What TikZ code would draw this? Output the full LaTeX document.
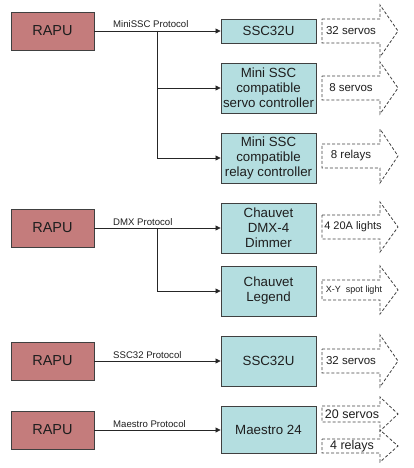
\documentclass[tikz,border=0pt]{standalone}
\usepackage{fontspec}
\setmainfont{Liberation Sans}
\usetikzlibrary{arrows.meta}
\definecolor{rapufill}{RGB}{196,124,124}
\definecolor{devfill}{RGB}{180,222,224}
\definecolor{edge}{RGB}{64,64,64}
\definecolor{txt}{RGB}{30,30,30}
\tikzset{
  pics/outarr/.style n args={2}{code={
    \draw[outline] (0,-#1) -- (58,-#1) -- (58,-#2) -- (76,0) -- (58,#2) -- (58,#1) -- (0,#1) -- cycle;}}
}
\begin{document}
\begin{tikzpicture}[x=1pt,y=-1pt,text=txt,
  rapu/.style={draw=edge,fill=rapufill,line width=0.9pt,minimum width=83pt,minimum height=38pt,inner sep=0pt,font=\fontsize{14.5}{16}\selectfont},
  dev/.style={draw=edge,fill=devfill,line width=0.9pt,minimum width=95pt,inner sep=0pt,align=center,font=\fontsize{13.3}{15}\selectfont},
  conn/.style={draw=black!85,line width=0.8pt,-{Triangle[length=5pt,width=5pt]}},
  plabel/.style={anchor=base west,inner sep=0pt,font=\fontsize{9.6}{11}\selectfont},
  outline/.style={draw=black!75,dash pattern=on 3pt off 2pt,line width=0.8pt},
  outtext/.style={inner sep=0pt,font=\fontsize{11.5}{13}\selectfont}]
\useasboundingbox (0,0) rectangle (413,468);

% RAPU boxes
\node[rapu] (r1) at (52.5,31) {RAPU};
\node[rapu] (r2) at (52.5,228) {RAPU};
\node[rapu] (r3) at (52.5,361) {RAPU};
\node[rapu] (r4) at (52.5,430) {RAPU};

% devices
\node[dev,minimum height=24pt] (s1) at (268.5,31) {SSC32U};
\node[dev,minimum height=50pt] (s2) at (268.5,88) {Mini SSC\\compatible\\servo controller};
\node[dev,minimum height=50pt] (s3) at (268.5,158) {Mini SSC\\compatible\\relay controller};
\node[dev,minimum height=50pt] (d1) at (268.5,228) {Chauvet\\DMX-4\\Dimmer};
\node[dev,minimum height=50pt] (d2) at (268.5,291) {Chauvet\\Legend};
\node[dev,minimum height=50pt] (s4) at (268.5,361) {SSC32U};
\node[dev,minimum height=47pt] (m) at (268.5,430) {Maestro 24};

% connectors
\coordinate (b1) at (157,31);
\coordinate (b2) at (157,228);
\draw[conn] (r1.east) -- (s1.west);
\draw[conn] (b1) |- (s2.west);
\draw[conn] (b1) |- (s3.west);
\draw[conn] (r2.east) -- (d1.west);
\draw[conn] (b2) |- (d2.west);
\draw[conn] (r3.east) -- (s4.west);
\draw[conn] (r4.east) -- (m.west);

% protocol labels
\node[plabel] (l1) at (113,28) {MiniSSC Protocol};
\node[plabel] (l2) at (113,225) {DMX Protocol};
\node[plabel] (l3) at (113,358) {SSC32 Protocol};
\node[plabel] (l4) at (113,427) {Maestro Protocol};

% output arrows
\pic at (322,31) {outarr={12}{26}};
\pic at (322,88) {outarr={12}{26}};
\pic at (322,156) {outarr={12}{27}};
\pic at (322,227) {outarr={12}{25}};
\pic at (322,290) {outarr={10}{24}};
\pic at (322,361) {outarr={12}{26}};
\pic at (322,414) {outarr={8}{17}};
\pic at (322,446) {outarr={7}{16}};

\node[outtext] (o1) at (351,31) {32 servos};
\node[outtext] (o2) at (351,88) {8 servos};
\node[outtext] (o3) at (351,156) {8 relays};
\node[outtext,font=\fontsize{11}{13}\selectfont] (o4) at (353,227) {4 20A lights};
\node[outtext,font=\fontsize{9}{11}\selectfont] (o5) at (354,290) {X-Y\ \ spot light};
\node[outtext] (o6) at (351,361) {32 servos};
\node[outtext,font=\fontsize{12.5}{14}\selectfont] (o7) at (352,414) {20 servos};
\node[outtext,font=\fontsize{12.5}{14}\selectfont] (o8) at (352,446) {4 relays};
\end{tikzpicture}
\end{document}
